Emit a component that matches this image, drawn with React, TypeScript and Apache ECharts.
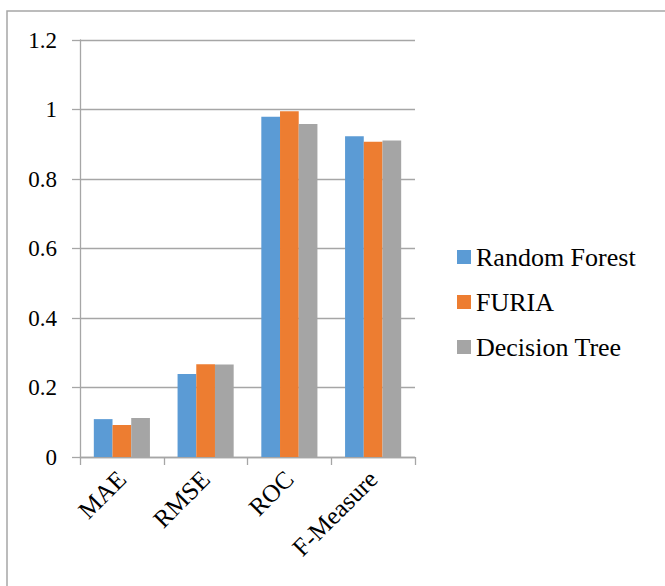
import React, { useEffect, useRef } from "react";
import * as echarts from "echarts";

const categories = ["MAE", "RMSE", "ROC", "F-Measure"];
const randomForest = [0.109, 0.239, 0.979, 0.923];
const furia = [0.092, 0.267, 0.995, 0.907];
const decisionTree = [0.112, 0.266, 0.958, 0.911];
const seriesNames = ["Random Forest", "FURIA", "Decision Tree"];
const colors = ["#5B9BD5", "#ED7D31", "#A5A5A5"];

export default function App() {
  const ref = useRef<HTMLDivElement>(null);
  useEffect(() => {
    if (!ref.current) return;
    const chart = echarts.init(ref.current, undefined, { renderer: "svg" });
    const font = "Liberation Serif";
    const data = [randomForest, furia, decisionTree];
    chart.setOption({
      animation: false,
      backgroundColor: "#ffffff",
      textStyle: { fontFamily: font },
      grid: { left: 80, right: 250, top: 40, bottom: 129 },
      graphic: [
        {
          type: "rect",
          shape: { x: 7, y: 11, width: 720, height: 640 },
          style: { fill: "none", stroke: "#a6a6a6", lineWidth: 1.5 },
          silent: true,
        },
      ],
      legend: {
        orient: "vertical",
        left: 457,
        top: 244,
        padding: 0,
        itemWidth: 14,
        itemHeight: 14,
        itemGap: 19,
        icon: "rect",
        data: seriesNames,
        textStyle: { fontFamily: font, fontSize: 26, color: "#000" },
      },
      xAxis: {
        type: "category",
        data: categories,
        axisLine: { lineStyle: { color: "#a6a6a6", width: 1.3 } },
        axisTick: { show: true, length: 8, lineStyle: { color: "#a6a6a6", width: 1.3 } },
        axisLabel: {
          rotate: 45,
          margin: 18,
          fontFamily: font,
          fontSize: 25,
          color: "#000",
        },
      },
      yAxis: {
        type: "value",
        min: 0,
        max: 1.2,
        interval: 0.2,
        axisLine: { show: true, lineStyle: { color: "#a6a6a6", width: 1.3 } },
        axisTick: { show: true, length: 8, lineStyle: { color: "#a6a6a6", width: 1.3 } },
        splitLine: { lineStyle: { color: "#a6a6a6", width: 1.3 } },
        axisLabel: {
          margin: 23,
          fontFamily: font,
          fontSize: 23,
          color: "#000",
          formatter: (v: number) => String(+v.toFixed(1)),
        },
      },
      series: seriesNames.map((name, i) => ({
        name,
        type: "bar",
        data: data[i],
        barGap: "0%",
        barCategoryGap: "33%",
        itemStyle: { color: colors[i] },
      })),
    });
    return () => chart.dispose();
  }, []);
  return (
    <div
      ref={ref}
      style={{ position: "absolute", left: 0, top: 0, width: 665, height: 586 }}
    />
  );
}
